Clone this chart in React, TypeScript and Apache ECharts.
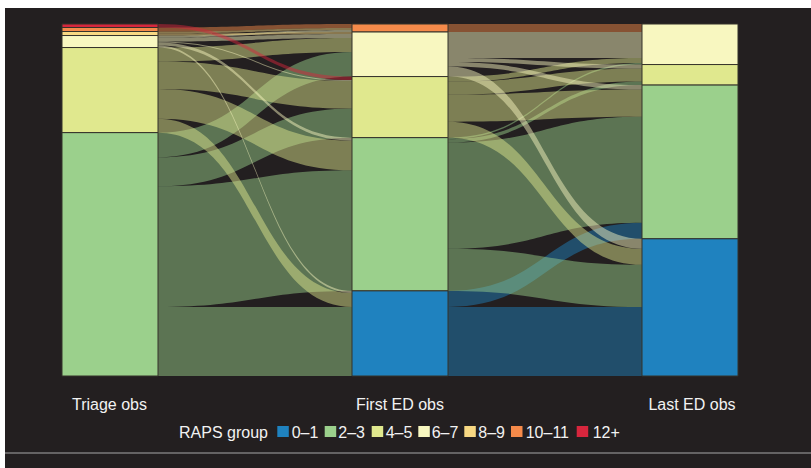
import React, { useEffect, useRef } from 'react';
import * as echarts from 'echarts';

const groups = ['0–1', '2–3', '4–5', '6–7', '8–9', '10–11', '12+'];
const groupColors = ['#1f82bf', '#9bd08c', '#e0e88e', '#f8f7c0', '#f7d883', '#f58a4a', '#d7263d'];
const stages = ['Triage obs', 'First ED obs', 'Last ED obs'];

// node order top -> bottom in each column
const triageGroups = ['12+', '10–11', '8–9', '6–7', '4–5', '2–3'];
const firstGroups = ['10–11', '6–7', '4–5', '2–3', '0–1'];
const lastGroups = ['6–7', '4–5', '2–3', '0–1'];

// Triage obs -> First ED obs  [from, to, value]
const flowsTriageFirst: [string, string, number][] = [
  ['2–3', '6–7', 24.5], ['2–3', '4–5', 29], ['2–3', '2–3', 120.5], ['2–3', '0–1', 69],
  ['4–5', '6–7', 14], ['4–5', '4–5', 27.5], ['4–5', '2–3', 29.5], ['4–5', '0–1', 14],
  ['6–7', '10–11', 2], ['6–7', '6–7', 4], ['6–7', '4–5', 1], ['6–7', '2–3', 3], ['6–7', '0–1', 2],
  ['8–9', '10–11', 2], ['8–9', '6–7', 2],
  ['10–11', '10–11', 4],
  ['12+', '4–5', 3.5],
];

// First ED obs -> Last ED obs
const flowsFirstLast: [string, string, number][] = [
  ['0–1', '2–3', 16], ['0–1', '0–1', 69],
  ['2–3', '6–7', 1.5], ['2–3', '4–5', 3.5], ['2–3', '2–3', 106], ['2–3', '0–1', 42],
  ['4–5', '6–7', 5], ['4–5', '4–5', 13], ['4–5', '2–3', 27], ['4–5', '0–1', 16],
  ['6–7', '6–7', 26], ['6–7', '4–5', 4], ['6–7', '2–3', 4.5], ['6–7', '0–1', 10],
  ['10–11', '6–7', 8],
];

const colorOf = (g: string) => groupColors[groups.indexOf(g)];

export default function App() {
  const ref = useRef<HTMLDivElement>(null);
  useEffect(() => {
    const chart = echarts.init(ref.current!, null, { renderer: 'svg' });
    const columns = [triageGroups, firstGroups, lastGroups];
    const nodes: any[] = [];
    columns.forEach((col, s) => {
      col.forEach((g) => {
        nodes.push({ name: s + '|' + g, depth: s, itemStyle: { color: colorOf(g) } });
      });
    });
    const links: any[] = [];
    flowsTriageFirst.forEach(([a, b, v]) => links.push({ source: '0|' + a, target: '1|' + b, value: v }));
    flowsFirstLast.forEach(([a, b, v]) => links.push({ source: '1|' + a, target: '2|' + b, value: v }));

    const font = 'Liberation Sans, Arial, Helvetica, sans-serif';
    const textColor = '#f2f2f2';
    const ox = 5;
    const oy = 8;
    const graphics: any[] = [];
    const labelCenters = [109.5, 400, 692];
    stages.forEach((s, i) => {
      graphics.push({
        type: 'text', x: labelCenters[i] - ox, y: 404 - oy, silent: true,
        style: { text: s, fill: textColor, fontSize: 16, fontFamily: font, textAlign: 'center', textVerticalAlign: 'middle' },
      });
    });
    graphics.push({
      type: 'text', x: 179 - ox, y: 432 - oy, silent: true,
      style: { text: 'RAPS group', fill: textColor, fontSize: 16, fontFamily: font, textAlign: 'left', textVerticalAlign: 'middle' },
    });
    const squareLefts = [277.3, 324.7, 371.7, 418.3, 464.3, 511, 576.7];
    const textLefts = [291.7, 338.3, 385.7, 431.7, 478.3, 525.7, 592.7];
    groups.forEach((g, i) => {
      graphics.push({
        type: 'rect', silent: true,
        shape: { x: squareLefts[i] - ox, y: 426 - oy, width: 11.5, height: 11 },
        style: { fill: groupColors[i] },
      });
      graphics.push({
        type: 'text', x: textLefts[i] - ox, y: 432 - oy, silent: true,
        style: { text: g, fill: textColor, fontSize: 16, fontFamily: font, textAlign: 'left', textVerticalAlign: 'middle' },
      });
    });
    graphics.push({
      type: 'line', silent: true,
      shape: { x1: 0, y1: 453 - oy, x2: 806, y2: 453 - oy },
      style: { stroke: '#a8a8a8', lineWidth: 1 },
    });

    chart.setOption({
      animation: false,
      backgroundColor: '#231f20',
      tooltip: { show: false },
      graphic: graphics,
      series: [
        {
          type: 'sankey',
          left: 62 - ox,
          top: 24 - oy,
          right: 73,
          bottom: 460 - (376 - oy),
          nodeWidth: 96,
          nodeGap: 0,
          layoutIterations: 0,
          nodeAlign: 'justify',
          draggable: false,
          label: { show: false },
          emphasis: { disabled: true },
          itemStyle: { borderColor: '#35322b', borderWidth: 1 },
          lineStyle: { color: 'source', opacity: 0.48, curveness: 0.5 },
          data: nodes,
          links,
        },
      ],
    });
    return () => chart.dispose();
  }, []);
  return <div ref={ref} style={{ position: 'absolute', left: 5, top: 8, width: 806, height: 460 }} />;
}
